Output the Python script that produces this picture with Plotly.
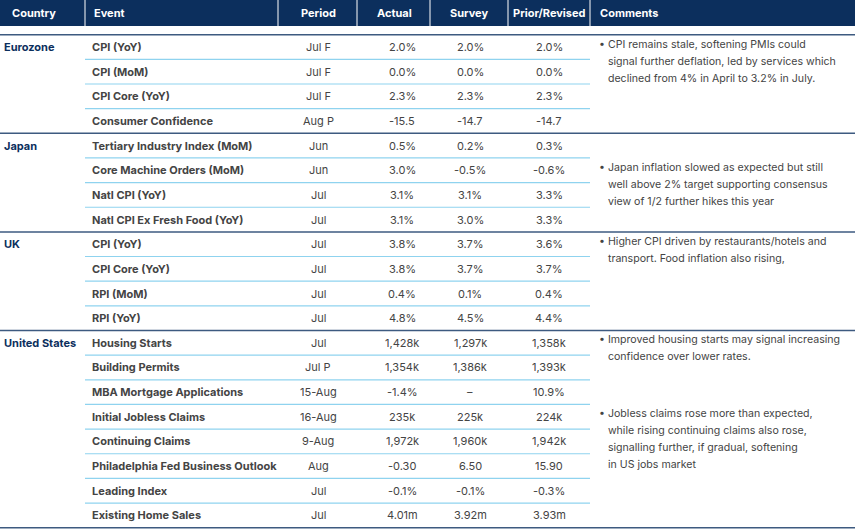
import plotly.graph_objects as go

headers = ["Country", "Event", "Period", "Actual", "Survey", "Prior/Revised", "Comments"]
countries = ["Eurozone", "Japan", "UK", "United States"]
group_sizes = [4, 4, 4, 8]
events = ["CPI (YoY)", "CPI (MoM)", "CPI Core (YoY)", "Consumer Confidence",
          "Tertiary Industry Index (MoM)", "Core Machine Orders (MoM)", "Natl CPI (YoY)", "Natl CPI Ex Fresh Food (YoY)",
          "CPI (YoY)", "CPI Core (YoY)", "RPI (MoM)", "RPI (YoY)",
          "Housing Starts", "Building Permits", "MBA Mortgage Applications", "Initial Jobless Claims",
          "Continuing Claims", "Philadelphia Fed Business Outlook", "Leading Index", "Existing Home Sales"]
periods = ["Jul F", "Jul F", "Jul F", "Aug P", "Jun", "Jun", "Jul", "Jul", "Jul", "Jul", "Jul", "Jul",
           "Jul", "Jul P", "15-Aug", "16-Aug", "9-Aug", "Aug", "Jul", "Jul"]
actual = ["2.0%", "0.0%", "2.3%", "-15.5", "0.5%", "3.0%", "3.1%", "3.1%", "3.8%", "3.8%", "0.4%", "4.8%",
          "1,428k", "1,354k", "-1.4%", "235k", "1,972k", "-0.30", "-0.1%", "4.01m"]
survey = ["2.0%", "0.0%", "2.3%", "-14.7", "0.2%", "-0.5%", "3.1%", "3.0%", "3.7%", "3.7%", "0.1%", "4.5%",
          "1,297k", "1,386k", "–", "225k", "1,960k", "6.50", "-0.1%", "3.92m"]
prior = ["2.0%", "0.0%", "2.3%", "-14.7", "0.3%", "-0.6%", "3.3%", "3.3%", "3.6%", "3.7%", "0.4%", "4.4%",
         "1,358k", "1,393k", "10.9%", "224k", "1,942k", "15.90", "-0.3%", "3.93m"]
# (start row, lines)
comments = [
    (0, ["• CPI remains stale, softening PMIs could", "  signal further deflation, led by services which", "  declined from 4% in April to 3.2% in July."]),
    (6, ["• Japan inflation slowed as expected but still", "  well above 2% target supporting consensus", "  view of 1/2 further hikes this year"]),
    (8, ["• Higher CPI driven by restaurants/hotels and", "  transport. Food inflation also rising,"]),
    (12, ["• Improved housing starts may signal increasing", "  confidence over lower rates."]),
    (15, ["• Jobless claims rose more than expected,", "  while rising continuing claims also rose,", "  signalling further, if gradual, softening", "  in US jobs market"]),
]
comment_offsets = {0: 0, 6: -1.0, 8: 0, 12: 0, 15: 0}

NAVY = "#0c2f5d"
TXT = "#444444"
LB = "#8fd3ef"
GL = "#3d5a80"
FONT = "Inter"
y0, dy = 47, 24.65
def ry(i): return y0 + i * dy

fig = go.Figure()
fig.add_trace(go.Scatter(x=[0, 855], y=[0, 530], mode="markers", marker=dict(opacity=0), hoverinfo="skip"))
shapes, ann = [], []
shapes.append(dict(type="rect", x0=0, x1=855, y0=0, y1=26, fillcolor=NAVY, line=dict(width=0), layer="below"))
for xs in [85, 278, 357, 430, 508, 590]:
    shapes.append(dict(type="line", x0=xs, x1=xs, y0=0, y1=26, line=dict(color="white", width=1)))
hx = [(10, "left"), (92, "left"), (318, "center"), (394, "center"), (469, "center"), (549, "center"), (598, "left")]
for (x, a), h in zip(hx, headers):
    ann.append(dict(x=x, y=13, text=f"<b>{h}</b>", xanchor=a, showarrow=False, font=dict(color="white", size=11, family=FONT)))
shapes.append(dict(type="line", x0=0, x1=855, y0=ry(-0.5), y1=ry(-0.5), line=dict(color=GL, width=1.5)))

row = 0
for c, n in zip(countries, group_sizes):
    ann.append(dict(x=2, y=ry(row), text=f"<b>{c}</b>", xanchor="left", showarrow=False, font=dict(color=NAVY, size=11, family=FONT)))
    for k in range(n - 1):
        yy = ry(row + k + 0.5)
        shapes.append(dict(type="line", x0=85, x1=590, y0=yy, y1=yy, line=dict(color=LB, width=1.2)))
    row += n
    yy = ry(row - 0.5)
    shapes.append(dict(type="line", x0=0, x1=855, y0=yy, y1=yy, line=dict(color=GL, width=1.5)))

for i in range(len(events)):
    y = ry(i)
    ann.append(dict(x=90, y=y, text=f"<b>{events[i]}</b>", xanchor="left", showarrow=False, font=dict(color=TXT, size=11, family=FONT)))
    for x, v in [(318, periods[i]), (402, actual[i]), (470, survey[i]), (549, prior[i])]:
        ann.append(dict(x=x, y=y, text=v, xanchor="center", showarrow=False, font=dict(color=TXT, size=11, family=FONT)))

for start, lines in comments:
    base = ry(start) - 3 + comment_offsets[start] * dy
    for j, t in enumerate(lines):
        ann.append(dict(x=597, y=base + j * 17, text=t.replace("  ", "&nbsp;&nbsp;&nbsp;"), xanchor="left", showarrow=False,
                        font=dict(color=TXT, size=10.6, family=FONT)))

fig.update_layout(width=855, height=530, margin=dict(l=0, r=0, t=0, b=0), paper_bgcolor="white", plot_bgcolor="white",
                  xaxis=dict(range=[0, 855], visible=False, fixedrange=True),
                  yaxis=dict(range=[530, 0], visible=False, fixedrange=True),
                  shapes=shapes, annotations=ann, showlegend=False)
fig.write_html("out.html", config={"displayModeBar": False},
               post_script="document.body.style.margin='0';document.body.style.overflow='hidden';")
